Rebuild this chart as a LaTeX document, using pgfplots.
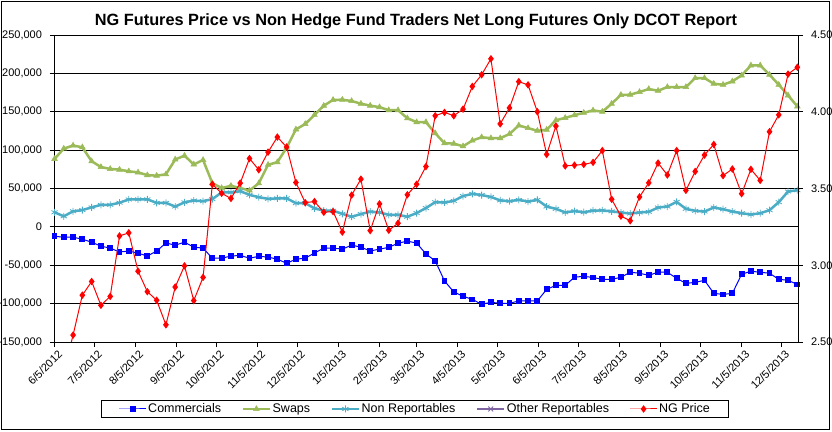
\documentclass[border=0pt]{standalone}
\usepackage{pgfplots}
\pgfplotsset{compat=1.18}
\usepackage{pgfplotstable}
\usepackage{fontspec}
\setmainfont{Liberation Sans}
\definecolor{cblue}{RGB}{0,0,255}
\definecolor{cgreen}{RGB}{155,187,89}
\definecolor{ccyan}{RGB}{75,172,198}
\definecolor{cpurple}{RGB}{128,100,162}
\definecolor{cred}{RGB}{255,0,0}
\pgfplotstableread{
i comm swaps nonrep price
0 -12200 88500 19000 2.38
1 -13500 102000 13800 2.30
2 -13500 106000 20300 2.545
3 -16000 103700 21900 2.805
4 -20000 85500 25400 2.894
5 -25100 78000 28700 2.739
6 -27700 75500 28700 2.797
7 -32700 74600 31500 3.191
8 -31600 72400 35700 3.211
9 -34200 71000 35900 2.961
10 -38000 67400 35900 2.828
11 -31500 66700 31300 2.772
12 -21000 68500 31300 2.612
13 -23800 87800 26500 2.858
14 -20000 92800 32000 2.996
15 -26400 81300 34300 2.770
16 -27700 87200 33500 2.921
17 -40800 57000 36100 3.527
18 -40800 50600 45000 3.469
19 -38000 53500 45000 3.435
20 -37200 50600 46500 3.535
21 -40800 47400 41700 3.695
22 -38400 56800 38700 3.622
23 -39300 80900 36500 3.737
24 -42100 84300 37200 3.835
25 -47400 103200 37200 3.770
26 -42100 127000 30900 3.539
27 -40800 134000 30900 3.408
28 -34000 146000 24100 3.415
29 -27700 157800 21300 3.345
30 -27700 165500 21000 3.350
31 -29000 165700 17000 3.216
32 -23800 164000 13200 3.457
33 -26400 160500 16700 3.561
34 -31400 158000 19800 3.226
35 -29000 156000 18900 3.400
36 -26700 152000 15700 3.228
37 -21200 152000 15700 3.274
38 -18600 141500 13200 3.459
39 -21100 136500 18000 3.528
40 -35200 136500 24500 3.643
41 -44300 122000 32200 3.974
42 -70400 109000 31800 3.996
43 -84800 108500 33900 3.974
44 -90400 105000 40200 4.017
45 -94500 112500 43000 4.165
46 -100800 116800 41500 4.241
47 -98300 115500 39000 4.345
48 -99600 115500 34500 3.921
49 -99600 121000 33500 4.025
50 -96500 132200 35200 4.196
51 -96500 128700 33000 4.175
52 -96500 125200 35200 4.000
53 -81400 126500 26500 3.722
54 -76200 139000 23500 3.907
55 -76200 142000 18900 3.647
56 -65600 145500 20600 3.652
57 -64400 148700 19100 3.657
58 -66000 151800 21100 3.670
59 -68300 150000 21500 3.747
60 -68300 160500 20200 3.430
61 -65700 172000 18700 3.320
62 -59100 172200 17400 3.290
63 -60400 175700 18700 3.445
64 -63100 179600 19600 3.537
65 -59100 177400 25200 3.666
66 -59100 182200 26500 3.588
67 -67000 182200 32600 3.747
68 -73600 182200 23500 3.488
69 -72300 193900 20900 3.611
70 -69600 193900 20000 3.718
71 -86600 186500 25200 3.787
72 -88000 185200 23000 3.584
73 -86600 189600 20000 3.627
74 -61700 197400 17800 3.466
75 -57800 210400 16100 3.625
76 -59100 210400 17800 3.553
77 -60400 198300 21700 3.870
78 -68300 185200 32200 3.980
79 -69600 171300 46100 4.245
80 -75000 157000 47800 4.290
}\data
\pgfplotsset{
  base/.style={scale only axis, width=743.5pt, height=307pt,
    at={(54.5pt,89pt)}, anchor=south west,
    xmin=0, xmax=560.5,
    tick align=outside, major tick length=4.5pt,
    tick style={black, line width=0.8pt},
    axis line style={black, line width=1pt},
    /pgf/number format/assume math mode=true,
    ticklabel style={font=\fontsize{11}{13}\selectfont}},
  legend image code/.code={\draw[mark repeat=2,mark phase=2,#1] plot coordinates {(0pt,0pt) (13.5pt,0pt) (27pt,0pt)};}
}
\begin{document}
\begin{tikzpicture}[x=1pt,y=1pt]
\useasboundingbox (0,0) rectangle (832,431);
\draw[line width=1pt] (1.5,1.5) rectangle (829.5,429.5);
\node[anchor=base, font=\bfseries\fontsize{16.3}{18}\selectfont, inner sep=0pt] at (416,405) {NG Futures Price vs Non Hedge Fund Traders Net Long Futures Only DCOT Report};
\begin{axis}[base,
  axis x line*=bottom, axis y line*=left,
  ymin=-150000, ymax=250000,
  ytick={-150000,-100000,-50000,0,50000,100000,150000,200000,250000},
  ymajorgrids, grid style={black, line width=0.8pt},
  scaled y ticks=false,
  yticklabel style={xshift=-4.5pt, /pgf/number format/.cd, fixed, 1000 sep={,}},
  xtick={0,30,61,92,122,153,183,214,245,273,304,334,365,395,426,457,487,518,548},
  xticklabels={6/5/2012,7/5/2012,8/5/2012,9/5/2012,10/5/2012,11/5/2012,12/5/2012,1/5/2013,2/5/2013,3/5/2013,4/5/2013,5/5/2013,6/5/2013,7/5/2013,8/5/2013,9/5/2013,10/5/2013,11/5/2013,12/5/2013},
  xticklabel style={rotate=45, anchor=north east, inner sep=1pt, yshift=-3pt, xshift=1pt},
  legend columns=5,
  legend style={at={(0.4849,-0.2182)}, anchor=center, draw=black, line width=0.8pt,
    font=\fontsize{12.5}{14}\selectfont, inner xsep=17pt, inner ysep=2pt,
    nodes={inner sep=1.5pt},
    /tikz/every even column/.append style={column sep=19pt}},
]
\addplot[color=cblue, line width=1pt, mark=square*, mark size=2.4pt] table[x expr=\thisrow{i}*7, y=comm] {\data};
\addlegendentry{Commercials}
\addplot[color=cgreen, line width=2.5pt, mark=triangle*, mark size=3.3pt, mark options={line width=0.5pt}] table[x expr=\thisrow{i}*7, y=swaps] {\data};
\addlegendentry{Swaps}
\addplot[color=ccyan, line width=2.5pt, mark=asterisk, mark size=3.5pt, mark options={line width=0.8pt}] table[x expr=\thisrow{i}*7, y=nonrep] {\data};
\addlegendentry{Non Reportables}
\addlegendimage{color=cpurple, line width=2.5pt, mark=x, mark size=3.5pt, mark options={line width=0.8pt}}
\addlegendentry{Other Reportables}
\addlegendimage{color=cred, line width=1pt, mark=diamond*, mark size=3pt}
\addlegendentry{NG Price}
\end{axis}
\begin{axis}[base,
  axis y line*=right, axis x line=none,
  ymin=2.5, ymax=4.5,
  ytick={2.5,3,3.5,4,4.5},
  yticklabel style={xshift=5pt, /pgf/number format/.cd, fixed, fixed zerofill, precision=2},
]
\addplot[color=cred, line width=1pt, mark=diamond*, mark size=3pt] table[x expr=\thisrow{i}*7, y=price] {\data};
\end{axis}
\end{tikzpicture}
\end{document}
